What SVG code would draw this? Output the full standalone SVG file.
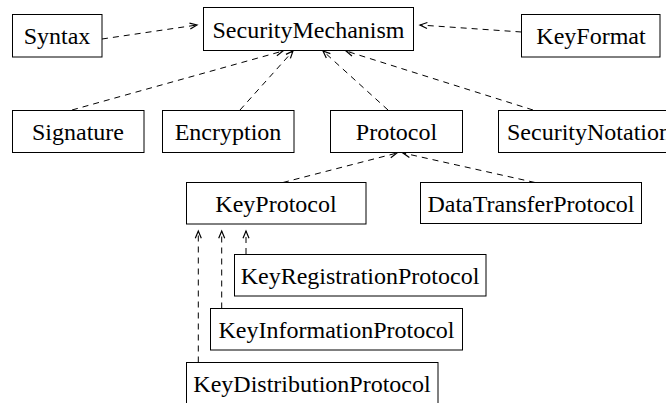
<svg xmlns="http://www.w3.org/2000/svg" width="666" height="403" viewBox="0 0 666 403">
<style>
  .box rect { fill: #fff; stroke: #000; stroke-width: 1; }
  .box text { font-family: "Liberation Serif", "Times New Roman", serif; font-size: 24px; fill: #000; text-anchor: middle; }
  .conn line { stroke: #000; stroke-width: 1; stroke-dasharray: 6 5; fill: none; marker-end: url(#open); }
</style>
<defs>
  <marker id="open" markerUnits="userSpaceOnUse" markerWidth="12" markerHeight="12" viewBox="-8 -4 10 8" refX="0" refY="0" orient="auto">
    <path d="M-6,-2.5 L0,0 L-6,2.5" fill="none" stroke="#000" stroke-width="1"/>
  </marker>
</defs>
<rect width="666" height="403" fill="#fff"/>
<g id="connectors" class="conn">
  <line x1="102" y1="39" x2="197" y2="25"/>
  <line x1="521.5" y1="32" x2="420" y2="25"/>
  <line x1="72" y1="110" x2="283" y2="51"/>
  <line x1="240" y1="110" x2="293" y2="51"/>
  <line x1="388" y1="110" x2="323" y2="51"/>
  <line x1="533" y1="110" x2="346" y2="51"/>
  <line x1="283" y1="182.5" x2="397" y2="153"/>
  <line x1="535" y1="182.5" x2="403" y2="153"/>
  <line x1="246" y1="254" x2="246" y2="231" stroke-dasharray="none"/>
  <line x1="221.7" y1="308.5" x2="221.7" y2="231"/>
  <line x1="198.3" y1="362.5" x2="198.3" y2="231"/>
</g>
<g id="Syntax" class="box"><rect x="12.5" y="14.5" width="89.5" height="42.5"/><text x="57" y="44">Syntax</text></g>
<g id="SecurityMechanism" class="box"><rect x="203.5" y="7.5" width="210" height="43"/><text x="308.5" y="37.5">SecurityMechanism</text></g>
<g id="KeyFormat" class="box"><rect x="521.5" y="14.5" width="138.5" height="42.5"/><text x="591" y="44">KeyFormat</text></g>
<g id="Signature" class="box"><rect x="12.5" y="110.5" width="131.5" height="42"/><text x="78" y="140">Signature</text></g>
<g id="Encryption" class="box"><rect x="162.5" y="110.5" width="131.5" height="42"/><text x="228" y="140">Encryption</text></g>
<g id="Protocol" class="box"><rect x="330.5" y="110.5" width="132" height="42"/><text x="396.5" y="140">Protocol</text></g>
<g id="SecurityNotation" class="box"><rect x="498.5" y="110.5" width="190" height="42"/><text x="507" y="140" style="text-anchor:start">SecurityNotation</text></g>
<g id="KeyProtocol" class="box"><rect x="186.5" y="182.5" width="179.5" height="41.5"/><text x="276" y="212">KeyProtocol</text></g>
<g id="DataTransferProtocol" class="box"><rect x="420.5" y="182.5" width="221" height="41"/><text x="531" y="212">DataTransferProtocol</text></g>
<g id="KeyRegistrationProtocol" class="box"><rect x="234.5" y="254.5" width="251.5" height="41.5"/><text x="360" y="283.5">KeyRegistrationProtocol</text></g>
<g id="KeyInformationProtocol" class="box"><rect x="210.5" y="308.5" width="252" height="41.5"/><text x="336.5" y="338">KeyInformationProtocol</text></g>
<g id="KeyDistributionProtocol" class="box"><rect x="186.5" y="362.5" width="251.5" height="42"/><text x="312" y="392">KeyDistributionProtocol</text></g>
</svg>
